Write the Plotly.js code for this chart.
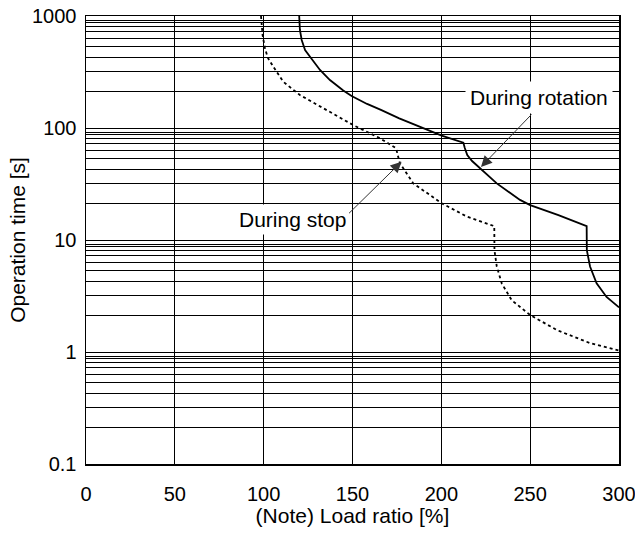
<!DOCTYPE html>
<html>
<head>
<meta charset="utf-8">
<script src="https://cdn.plot.ly/plotly-3.0.1.min.js"></script>
<style>html,body{margin:0;padding:0;background:#fff;}#chart{width:635px;height:554px;}</style>
</head>
<body>
<div id="chart"></div>
<script>
// During rotation (solid)
const rotationLoad = [120, 120.2, 120.4, 121.4, 123.3, 126.1, 128.9, 131.7, 137.3, 144.8, 149.5, 158.2, 166, 176.3, 200.2, 212.4, 213.2, 214.6, 217.3, 221.8, 231.2, 244.3, 250, 265.9, 281.8, 281.9, 283.7, 287.4, 293, 300];
const rotationTime = [1000, 848, 750, 611, 497, 433, 380, 330, 268, 216, 193, 164, 145, 122, 85.4, 74, 66.2, 57.4, 50.7, 43.7, 32, 22.8, 20.5, 16.7, 13.3, 8.1, 5.8, 4.1, 3.1, 2.5];
// During stop (dashed)
const stopLoad = [98.5, 99.0, 99.4, 100.7, 102.4, 105.4, 111, 120.4, 135.5, 150.5, 165.5, 174.5, 175.6, 176.7, 184.2, 200.2, 214.3, 229.8, 229.9, 231.2, 234, 239.6, 250, 265, 283.7, 300];
const stopTime = [1000, 831, 676, 515, 422, 353, 259, 197, 145, 106, 81, 66, 56.3, 48.4, 32, 21.3, 16.2, 13.3, 8.1, 5.8, 4.1, 2.9, 2.14, 1.57, 1.2, 1.03];

const xTickVals = [0, 50, 100, 150, 200, 250, 300];
const decades = [0.1, 1, 10, 100, 1000];
const decadeLabels = ["0.1", "1", "10", "100", "1000"];
const minorSteps = [2.1, 3.2, 4.3, 5.3, 6.3, 7.3, 8.1, 8.7, 9.2];

const yTickVals = [];
const yTickText = [];
decades.forEach((d, i) => {
  yTickVals.push(d); yTickText.push(decadeLabels[i]);
  if (i < decades.length - 1) {
    minorSteps.forEach(m => { yTickVals.push(d * m); yTickText.push(""); });
  }
});

const family = '"Liberation Sans", Arial, sans-serif';
const tickFont = {family: family, size: 20, color: '#000'};
const textFont = {family: family, size: 21, color: '#000'};

const traces = [
  {x: rotationLoad, y: rotationTime, type: 'scatter', mode: 'lines',
   line: {color: '#000', width: 1.8}, name: 'During rotation', hoverinfo: 'skip'},
  {x: stopLoad, y: stopTime, type: 'scatter', mode: 'lines',
   line: {color: '#000', width: 1.8, dash: '3px,3px'}, name: 'During stop', hoverinfo: 'skip'}
];

const layout = {
  width: 635, height: 554,
  margin: {l: 86, r: 16, t: 16, b: 90},
  paper_bgcolor: '#fff', plot_bgcolor: '#fff',
  showlegend: false,
  font: tickFont,
  xaxis: {
    range: [0, 300], tickvals: xTickVals, ticks: 'outside', ticklen: 11,
    tickcolor: 'rgba(0,0,0,0)', showgrid: true, gridcolor: '#000', gridwidth: 1,
    showline: true, linecolor: '#000', linewidth: 1.5, mirror: true, zeroline: false,
    tickfont: tickFont, ticklabeloverflow: 'allow',
    title: {text: '(Note) Load ratio [%]', font: textFont, standoff: 4}
  },
  yaxis: {
    type: 'log', range: [-1, 3], tickvals: yTickVals, ticktext: yTickText,
    ticks: 'outside', ticklen: 4, tickcolor: 'rgba(0,0,0,0)',
    showgrid: true, gridcolor: '#000', gridwidth: 1,
    showline: true, linecolor: '#000', linewidth: 1.5, mirror: true, zeroline: false,
    tickfont: tickFont, ticklabeloverflow: 'allow',
    title: {text: 'Operation time [s]', font: textFont, standoff: 0}
  },
  annotations: [
    {x: 255, y: Math.log10(189), xref: 'x', yref: 'y', text: 'During rotation', showarrow: false,
     bgcolor: '#fff', borderpad: 4, font: textFont},
    {x: 116.5, y: Math.log10(15.1), xref: 'x', yref: 'y', text: 'During stop', showarrow: false,
     bgcolor: '#fff', borderpad: 3, font: textFont},
    {x: 222.3, y: Math.log10(44.9), xref: 'x', yref: 'y', text: '', showarrow: true,
     ax: 52, ay: -54, arrowhead: 2, arrowsize: 2.2, arrowwidth: 1, arrowcolor: '#333', standoff: 0},
    {x: 177.6, y: Math.log10(50), xref: 'x', yref: 'y', text: '', showarrow: true,
     ax: -54, ay: 53, arrowhead: 2, arrowsize: 2.2, arrowwidth: 1, arrowcolor: '#333', standoff: 0}
  ]
};

Plotly.newPlot('chart', traces, layout, {staticPlot: true, displayModeBar: false});
</script>
</body>
</html>
